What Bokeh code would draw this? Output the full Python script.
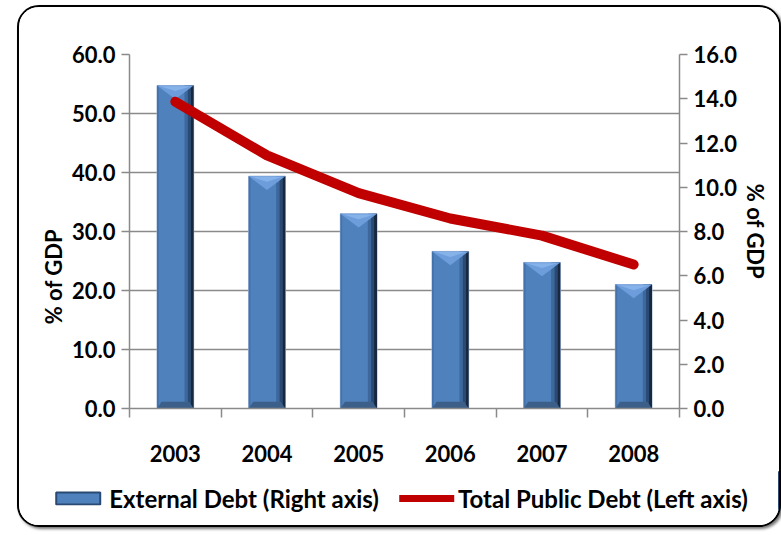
from bokeh.plotting import figure
from bokeh.layouts import column
from bokeh.models import Range1d, LinearAxis, FixedTicker, NumeralTickFormatter, Legend, LegendItem
from bokeh.embed import file_html
from bokeh.resources import INLINE

# ---- data ----
years = ["2003", "2004", "2005", "2006", "2007", "2008"]
external_debt = [14.6, 10.5, 8.8, 7.1, 6.6, 5.6]          # right axis, % of GDP
total_public_debt = [52.0, 42.9, 36.5, 32.2, 29.3, 24.4]  # left axis, % of GDP
left_ticks = [0, 10, 20, 30, 40, 50, 60]
right_ticks = [0, 2, 4, 6, 8, 10, 12, 14, 16]

FONT = "Lato"
GRAY = "#8a8a8a"
BLUE = "#4F81BD"
RED = "#C00000"
xs = list(range(1, len(years) + 1))
bw = 0.4

p = figure(width=760, height=464,
           x_range=Range1d(0.5, len(years) + 0.5), y_range=Range1d(0, 60),
           output_backend="svg", toolbar_location=None,
           min_border_left=110, min_border_right=100, min_border_top=47, min_border_bottom=63)
p.frame_align = False
p.extra_y_ranges = {"right": Range1d(0, 16)}
p.outline_line_color = None
p.background_fill_color = "white"
p.border_fill_color = "white"

# grid
p.xgrid.visible = False
p.ygrid.ticker = FixedTicker(ticks=left_ticks, minor_ticks=[])
p.ygrid.grid_line_color = GRAY
p.ygrid.grid_line_width = 1.5

# bars (right axis) with bevel effect
bars = p.vbar(x=xs, top=external_debt, width=bw, bottom=0, y_range_name="right",
              fill_color=BLUE, line_color="#9db5d6", line_width=1)
p.quad(left=[x - bw / 2 for x in xs], right=[x - bw / 2 + 0.02 for x in xs],
       bottom=0, top=external_debt, y_range_name="right", fill_color="#4473AC", line_color=None)
for a, b, c in [(0.10, 0.135, "#3D689D"), (0.135, 0.168, "#2A4A73"), (0.168, 0.2, "#17283F")]:
    p.quad(left=[x + a for x in xs], right=[x + b for x in xs], bottom=0, top=external_debt,
           y_range_name="right", fill_color=c, line_color=None)
p.patches(xs=[[x - bw / 2, x + bw / 2, x] for x in xs],
          ys=[[v, v, v - 0.62] for v in external_debt], y_range_name="right",
          fill_color="#6E9DDC", line_color=None)
p.patches(xs=[[x - bw / 2 + 0.03, x + bw / 2 - 0.03, x] for x in xs],
          ys=[[v - 0.03, v - 0.03, v - 0.25] for v in external_debt], y_range_name="right",
          fill_color="#86B2EA", line_color=None)
p.patches(xs=[[x - bw / 2, x + bw / 2, x + bw / 2 - 0.05, x - bw / 2 + 0.05] for x in xs],
          ys=[[0, 0, 0.3, 0.3] for v in external_debt], y_range_name="right",
          fill_color="#3B5F88", line_color=None)

# line (left axis)
line = p.line(x=xs, y=total_public_debt, line_color=RED, line_width=10,
              line_join="round", line_cap="round")

# x axis
xa = p.xaxis[0]
xa.ticker = FixedTicker(ticks=xs, minor_ticks=[x - 0.5 for x in xs] + [xs[-1] + 0.5])
xa.major_label_overrides = {x: y for x, y in zip(xs, years)}
xa.major_tick_out = 0
xa.major_tick_in = 0
xa.minor_tick_out = 9
xa.minor_tick_in = 0
xa.minor_tick_line_color = GRAY
xa.minor_tick_line_width = 1.5
xa.axis_line_color = GRAY
xa.axis_line_width = 1.5
xa.major_label_standoff = 27
xa.major_label_text_font = FONT
xa.major_label_text_font_style = "bold"
xa.major_label_text_font_size = "22px"
xa.major_label_text_color = "black"

# left axis
ya = p.yaxis[0]
ya.ticker = FixedTicker(ticks=left_ticks, minor_ticks=[])
ya.formatter = NumeralTickFormatter(format="0.0")
ya.axis_label = "% of GDP" + "\u00a0" * 17
ya.axis_label_standoff = 2

# right axis
ra = LinearAxis(y_range_name="right", ticker=FixedTicker(ticks=right_ticks, minor_ticks=[]),
                formatter=NumeralTickFormatter(format="0.0"), axis_label="% of GDP",
                axis_label_standoff=2)
p.add_layout(ra, "right")

for ax in (ya, ra):
    ax.major_tick_out = 8
    ax.major_tick_in = 0
    ax.minor_tick_out = 0
    ax.major_tick_line_color = GRAY
    ax.major_tick_line_width = 1.5
    ax.axis_line_color = GRAY
    ax.axis_line_width = 1.5
    ax.major_label_standoff = 6
    ax.major_label_text_font = FONT
    ax.major_label_text_font_style = "bold"
    ax.major_label_text_font_size = "22px"
    ax.major_label_text_color = "black"
    ax.axis_label_text_font = FONT
    ax.axis_label_text_font_style = "bold"
    ax.axis_label_text_font_size = "22px"
    ax.axis_label_text_color = "black"

# legend strip (its renderers use the same series, drawn outside this strip's visible range)
lg = figure(width=760, height=54, x_range=Range1d(-10, -9), y_range=Range1d(0, 1),
            output_backend="svg", toolbar_location=None,
            x_axis_type=None, y_axis_type=None,
            min_border_left=0, min_border_right=0, min_border_top=0, min_border_bottom=0)
lg.frame_align = False
lg.outline_line_color = None
lg.xgrid.visible = False
lg.ygrid.visible = False
lg.border_fill_color = "white"
lg.background_fill_color = "white"
r_bar = lg.vbar(x=xs, top=external_debt, width=bw, fill_color=BLUE,
                line_color="#2A4A73", line_width=2)
r_line = lg.line(x=xs, y=total_public_debt, line_color=RED, line_width=7, line_cap="round")
legend = Legend(items=[LegendItem(label="External Debt (Right axis)", renderers=[r_bar]),
                       LegendItem(label="Total Public Debt (Left axis)", renderers=[r_line])],
                orientation="horizontal", location="center",
                border_line_color=None, background_fill_alpha=0,
                label_text_font=FONT, label_text_font_style="bold",
                label_text_font_size="24px", label_text_color="black",
                glyph_width=55, glyph_height=15, spacing=20, margin=0, padding=4,
                label_standoff=4)
lg.add_layout(legend, "center")

layout = column(p, lg, spacing=0,
                styles={"border": "2px solid #000", "border-radius": "22px",
                        "box-shadow": "2px 2px 3px rgba(0,0,0,0.55)",
                        "margin-left": "17px", "margin-top": "5px",
                        "background-color": "white", "overflow": "hidden"})

open("out.html", "w").write(file_html(layout, INLINE))
